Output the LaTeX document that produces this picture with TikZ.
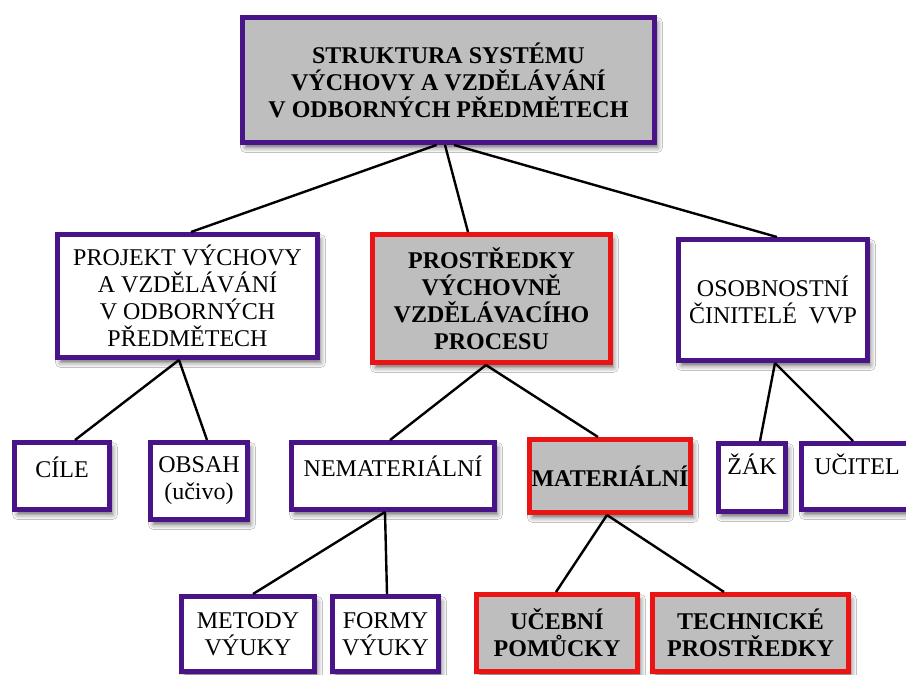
\documentclass[tikz,border=0pt]{standalone}
\usepackage{fontspec}
\setmainfont{Liberation Serif}
\usetikzlibrary{shadows.blur}
\definecolor{fialova}{RGB}{72,20,135}
\definecolor{cervena}{RGB}{235,20,20}
\definecolor{seda}{RGB}{190,190,190}

\begin{document}
\begin{tikzpicture}[
  x=1pt, y=-1pt,
  box/.style={draw=fialova, line width=5pt, fill=white, align=center, inner sep=1pt,
    font=\fontsize{24}{27}\selectfont,
    blur shadow={shadow xshift=3pt, shadow yshift=-5pt, shadow blur radius=5pt, shadow opacity=60}},
  sedybox/.style={box, fill=seda, font=\fontsize{24}{27}\selectfont\bfseries},
  cervbox/.style={sedybox, draw=cervena},
  vel/.style 2 args={minimum width=#1pt, minimum height=#2pt},
  hore/.style={text depth=#1pt},
  spoj/.style={line width=2.4pt},
]
\useasboundingbox (0,0) rectangle (906,675);
\fill[white] (0,0) rectangle (906,675);
\clip (0,0) rectangle (906,675);

% hlavni uzel
\node[sedybox, vel={412}{125}] (top) at (448.5,80)
  {STRUKTURA SYSTÉMU\\VÝCHOVY A VZDĚLÁVÁNÍ\\V ODBORNÝCH PŘEDMĚTECH};

% druha uroven
\node[box, vel={260}{123}] (proj) at (187.5,296)
  {PROJEKT VÝCHOVY\\A VZDĚLÁVÁNÍ\\V ODBORNÝCH\\PŘEDMĚTECH};
\node[cervbox, vel={238}{128}] (prost) at (491.5,298.5)
  {PROSTŘEDKY\\VÝCHOVNĚ\\VZDĚLÁVACÍHO\\PROCESU};
\node[box, vel={189}{121}] (osob) at (773,300)
  {OSOBNOSTNÍ\\ČINITELÉ\ \ VVP};

% treti uroven
\node[box, vel={95}{67}, hore=17] (cile) at (62,476) {CÍLE};
\node[box, vel={97}{77}] (obsah) at (199,481) {OBSAH\\(učivo)};
\node[box, vel={203}{67}, hore=20] (nemat) at (393,476) {NEMATERIÁLNÍ};
\node[cervbox, vel={161}{73}] (mat) at (610,476) {MATERIÁLNÍ};
\node[box, vel={67}{68}, hore=26] (zak) at (752,477.5) {ŽÁK};
\node[box, vel={111}{66}, hore=25] (ucitel) at (857,476.5) {UČITEL};

% ctvrta uroven
\node[box, vel={133}{75}] (metody) at (248,634) {METODY\\VÝUKY};
\node[box, vel={106}{75}] (formy) at (385.5,634) {FORMY\\VÝUKY};
\node[cervbox, vel={161}{77}] (ucebni) at (557,633) {UČEBNÍ\\POMŮCKY};
\node[cervbox, vel={196}{77}] (techn) at (750.5,633) {TECHNICKÉ\\PROSTŘEDKY};

% spojnice
\draw[spoj] ([xshift=-12pt]top.south) -- ([xshift=3.5pt]proj.north);
\draw[spoj] ([xshift=-3.5pt]top.south) -- ([xshift=-23.5pt]prost.north);
\draw[spoj] ([xshift=5.5pt]top.south) -- ([xshift=4pt]osob.north);
\draw[spoj] ([xshift=-8.5pt]proj.south) -- ([xshift=13pt]cile.north);
\draw[spoj] ([xshift=-8.5pt]proj.south) -- ([xshift=8pt]obsah.north);
\draw[spoj] ([xshift=-5.5pt]prost.south) -- ([xshift=-3pt]nemat.north);
\draw[spoj] ([xshift=-5.5pt]prost.south) -- ([xshift=-12pt]mat.north);
\draw[spoj] ([xshift=2pt]osob.south) -- ([xshift=8pt]zak.north);
\draw[spoj] ([xshift=2pt]osob.south) -- ([xshift=-4pt]ucitel.north);
\draw[spoj] ([xshift=-8pt]nemat.south) -- ([xshift=5pt]metody.north);
\draw[spoj] ([xshift=-8pt]nemat.south) -- ([xshift=1.5pt]formy.north);
\draw[spoj] ([xshift=-3pt]mat.south) -- ([xshift=-1pt]ucebni.north);
\draw[spoj] ([xshift=-3pt]mat.south) -- ([xshift=-26.5pt]techn.north);
\end{tikzpicture}
\end{document}
